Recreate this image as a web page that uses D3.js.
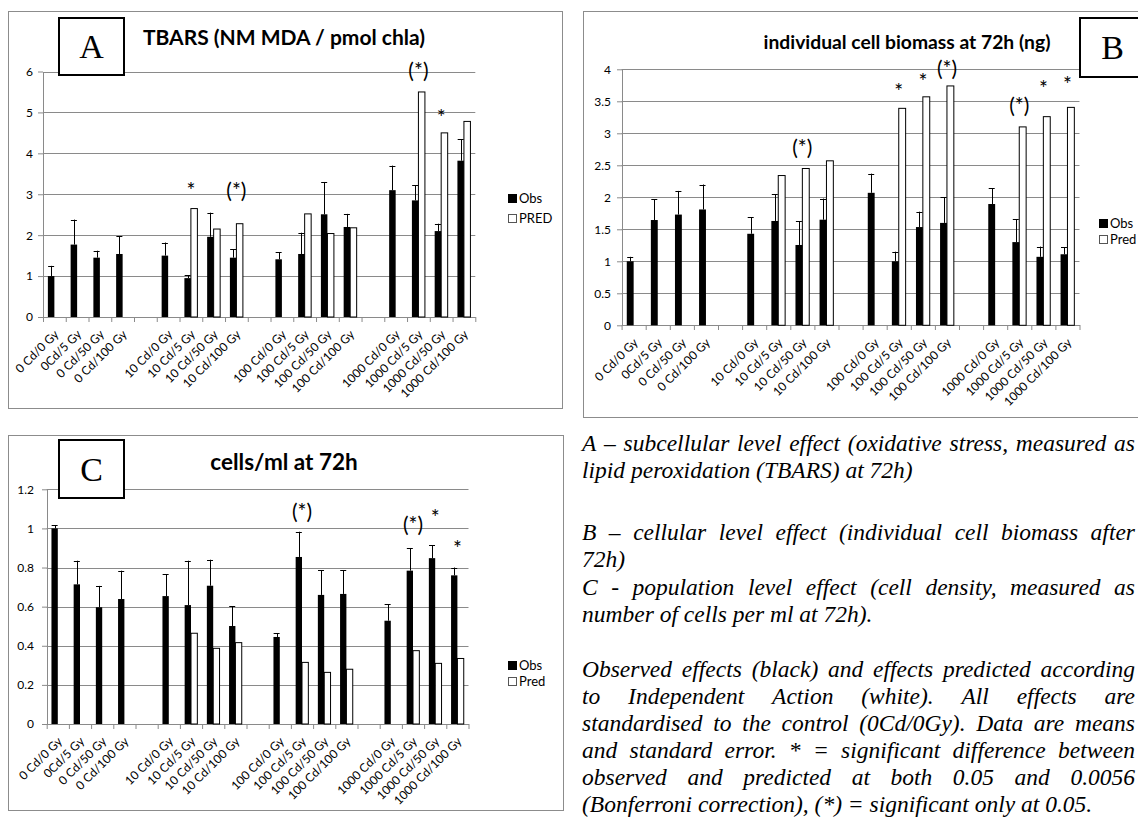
<!DOCTYPE html>
<html>
<head>
<meta charset="utf-8">
<script src="https://cdn.jsdelivr.net/npm/d3@7"></script>
<style>
  body { margin: 0; background: #fff; }
  svg { display: block; }
</style>
</head>
<body>
<svg id="fig" width="1138" height="819"></svg>
<script>
// =======================
// Data
// =======================
const categories = [
  "0 Cd/0 Gy", "0Cd/5 Gy", "0 Cd/50 Gy", "0 Cd/100 Gy", "",
  "10 Cd/0 Gy", "10 Cd/5 Gy", "10 Cd/50 Gy", "10 Cd/100 Gy", "",
  "100 Cd/0 Gy", "100 Cd/5 Gy", "100 Cd/50 Gy", "100 Cd/100 Gy", "",
  "1000 Cd/0 Gy", "1000 Cd/5 Gy", "1000 Cd/50 Gy", "1000 Cd/100 Gy"
];

// A - TBARS
const tbarsObs  = [1.0, 1.77, 1.45, 1.54, null, 1.5, 0.95, 1.96, 1.45, null, 1.41, 1.54, 2.51, 2.2, null, 3.1, 2.85, 2.1, 3.82];
const tbarsErr  = [0.25, 0.61, 0.17, 0.43, null, 0.32, 0.07, 0.59, 0.2, null, 0.17, 0.52, 0.79, 0.32, null, 0.6, 0.37, 0.18, 0.53];
const tbarsPred = [null, null, null, null, null, null, 2.65, 2.15, 2.28, null, null, 2.52, 2.04, 2.18, null, null, 5.5, 4.5, 4.78];
const tbarsMarks = [[6, "*", 2.9], [8, "(*)", 2.9], [16, "(*)", 5.83], [17, "*", 4.7]];

// B - individual cell biomass
const biomassObs  = [1.0, 1.645, 1.73, 1.81, null, 1.43, 1.63, 1.255, 1.65, null, 2.07, 1.0, 1.535, 1.6, null, 1.895, 1.3, 1.07, 1.11];
const biomassErr  = [0.07, 0.325, 0.37, 0.39, null, 0.26, 0.42, 0.37, 0.33, null, 0.3, 0.15, 0.24, 0.4, null, 0.245, 0.355, 0.16, 0.11];
const biomassPred = [null, null, null, null, null, null, 2.34, 2.45, 2.57, null, null, 3.39, 3.57, 3.74, null, null, 3.1, 3.26, 3.405];
const biomassMarks = [[7, "(*)", 2.66], [11, "*", 3.54], [12, "*", 3.69], [13, "(*)", 3.9], [16, "(*)", 3.32], [17, "*", 3.58], [18, "*", 3.64]];

// C - cells/ml
const cellsObs  = [1.0, 0.714, 0.597, 0.639, null, 0.654, 0.608, 0.707, 0.501, null, 0.445, 0.854, 0.66, 0.665, null, 0.528, 0.784, 0.848, 0.76];
const cellsErr  = [0.015, 0.121, 0.109, 0.145, null, 0.111, 0.227, 0.133, 0.102, null, 0.019, 0.129, 0.126, 0.121, null, 0.085, 0.116, 0.067, 0.04];
const cellsPred = [null, null, null, null, null, null, 0.464, 0.387, 0.416, null, null, 0.315, 0.264, 0.28, null, null, 0.375, 0.31, 0.335];
const cellsMarks = [[11, "(*)", 1.048], [16, "(*)", 0.98], [17, "*", 1.02], [18, "*", 0.86]];

// caption (line breaks as in the figure; j = justified line)
const captionLines = [
  { t: "A – subcellular level effect (oxidative stress, measured as", j: true },
  { t: "lipid peroxidation (TBARS) at 72h)", j: false },
  { t: "B – cellular level effect (individual cell biomass after", j: true },
  { t: "72h)", j: false },
  { t: "C - population level effect (cell density, measured as", j: true },
  { t: "number of cells per ml at 72h).", j: false },
  { t: "Observed effects (black) and effects predicted according", j: true },
  { t: "to Independent Action (white). All effects are", j: true },
  { t: "standardised to the control (0Cd/0Gy). Data are means", j: true },
  { t: "and standard error. * = significant difference between", j: true },
  { t: "observed and predicted at both 0.05 and 0.0056", j: true },
  { t: "(Bonferroni correction), (*) = significant only at 0.05.", j: false }
];
const captionBaselines = [451, 478, 540, 567, 595, 622, 677, 704, 731, 758, 785, 812];

// =======================
// Setup
// =======================
const svg = d3.select("#fig");
const FONT = "Lato, 'Open Sans', sans-serif";
const SERIF = "'Liberation Serif', 'Times New Roman', serif";
const GRID = "#8a8a8a";

function fmt(d) { return String(+d.toFixed(2)); }

// =======================
// One chart panel
// =======================
function drawPanel(p) {
  const g = svg.append("g");
  const [fx, fy, fw, fh] = p.frame;

  g.append("rect")
    .attr("x", fx + 0.5).attr("y", fy + 0.5)
    .attr("width", fw).attr("height", fh)
    .attr("fill", "#fff").attr("stroke", "#8c8c8c");

  const x = d3.scaleBand()
    .domain(d3.range(categories.length))
    .range([p.left, p.right]);
  const xl = d3.scaleLinear()
    .domain([0, categories.length])
    .range([p.left, p.right]);
  const y = d3.scaleLinear()
    .domain(p.yDomain)
    .range([p.bottom, p.top]);

  const ticks = d3.range(0, Math.round(p.yDomain[1] / p.yStep) + 1).map(k => k * p.yStep);
  const bw = x.bandwidth() / 3.5;
  const cx = i => x(i) + x.bandwidth() / 2;

  // gridlines
  g.append("g").selectAll("line")
    .data(ticks.slice(1))
    .join("line")
    .attr("x1", p.left).attr("x2", p.right)
    .attr("y1", d => Math.round(y(d)) + 0.5)
    .attr("y2", d => Math.round(y(d)) + 0.5)
    .attr("stroke", GRID);

  // y axis
  const yAxis = g.append("g")
    .attr("transform", `translate(${Math.round(p.left)},0)`)
    .call(d3.axisLeft(y).tickValues(ticks).tickSize(5).tickSizeOuter(0)
      .tickPadding(p.pad).tickFormat(fmt));
  yAxis.select(".domain").attr("stroke", GRID);
  yAxis.selectAll(".tick line").attr("stroke", GRID);
  yAxis.selectAll(".tick text")
    .attr("font-family", FONT).attr("font-size", 12).attr("fill", "#000");

  // x axis (ticks between categories)
  const xAxis = g.append("g")
    .attr("transform", `translate(0,${Math.round(p.bottom)})`)
    .call(d3.axisBottom(xl).tickValues(d3.range(categories.length + 1))
      .tickSize(5).tickSizeOuter(0).tickFormat(""));
  xAxis.select(".domain").attr("stroke", GRID);
  xAxis.selectAll(".tick line").attr("stroke", GRID);

  g.append("g").selectAll("text")
    .data(categories.map((c, i) => ({ c, i })).filter(d => d.c))
    .join("text")
    .attr("transform", d => `translate(${cx(d.i) + 5},${p.bottom + 18}) rotate(-45)`)
    .attr("text-anchor", "end")
    .attr("font-family", FONT).attr("font-size", 12)
    .text(d => d.c);

  // predicted bars (white)
  g.append("g").selectAll("rect")
    .data(p.pred.map((v, i) => ({ v, i })).filter(d => d.v != null))
    .join("rect")
    .attr("x", d => cx(d.i))
    .attr("y", d => y(d.v))
    .attr("width", bw)
    .attr("height", d => y(0) - y(d.v))
    .attr("fill", "#fff").attr("stroke", "#000").attr("stroke-width", 1);

  // observed bars (black)
  const obs = p.obs.map((v, i) => ({ v, i, e: p.err[i] })).filter(d => d.v != null);
  g.append("g").selectAll("rect")
    .data(obs)
    .join("rect")
    .attr("x", d => cx(d.i) - bw)
    .attr("y", d => y(d.v))
    .attr("width", bw)
    .attr("height", d => y(0) - y(d.v))
    .attr("fill", "#000");

  // error bars
  const eb = g.append("g").attr("stroke", "#000").attr("stroke-width", 1);
  eb.selectAll("line.v")
    .data(obs)
    .join("line").attr("class", "v")
    .attr("x1", d => Math.round(cx(d.i) - bw / 2) + 0.5)
    .attr("x2", d => Math.round(cx(d.i) - bw / 2) + 0.5)
    .attr("y1", d => y(d.v))
    .attr("y2", d => y(d.v + d.e));
  eb.selectAll("line.c")
    .data(obs)
    .join("line").attr("class", "c")
    .attr("x1", d => cx(d.i) - bw / 2 - 3)
    .attr("x2", d => cx(d.i) - bw / 2 + 3)
    .attr("y1", d => Math.round(y(d.v + d.e)) + 0.5)
    .attr("y2", d => Math.round(y(d.v + d.e)) + 0.5);

  // significance marks
  g.append("g").selectAll("text")
    .data(p.marks)
    .join("text")
    .attr("x", d => cx(d[0]))
    .attr("y", d => y(d[2]))
    .attr("text-anchor", "middle")
    .attr("font-family", FONT).attr("font-size", 21)
    .text(d => d[1]);

  // title
  g.append("text")
    .attr("x", p.titleX).attr("y", p.titleY)
    .attr("text-anchor", "middle")
    .attr("font-family", FONT).attr("font-weight", "bold")
    .attr("font-size", p.titleSize)
    .text(p.title);

  // panel letter box
  const [bx, by, bwid, bh] = p.box;
  g.append("rect")
    .attr("x", bx).attr("y", by).attr("width", bwid).attr("height", bh)
    .attr("fill", "#fff").attr("stroke", "#000").attr("stroke-width", 2);
  g.append("text")
    .attr("x", bx + 32.5).attr("y", by + bh / 2 + 11.5)
    .attr("text-anchor", "middle")
    .attr("font-family", SERIF).attr("font-size", 34)
    .text(p.letter);

  // legend
  const lg = g.append("g")
    .attr("transform", `translate(${p.legend[0]},${p.legend[1]})`);
  p.legendLabels.forEach((lab, k) => {
    const row = lg.append("g").attr("transform", `translate(0,${k * p.legend[2]})`);
    row.append("rect")
      .attr("x", 0.5).attr("y", -3.5).attr("width", 8).attr("height", 8)
      .attr("fill", k === 0 ? "#000" : "#fff")
      .attr("stroke", k === 0 ? "#000" : "#555");
    row.append("text")
      .attr("x", 11).attr("y", 0.5).attr("dy", "0.35em")
      .attr("font-family", FONT).attr("font-size", 13)
      .text(lab);
  });
}

drawPanel({
  frame: [8, 11, 554, 397],
  left: 43, right: 475.3, bottom: 317, top: 71.5, pad: 5,
  yDomain: [0, 6], yStep: 1,
  obs: tbarsObs, err: tbarsErr, pred: tbarsPred, marks: tbarsMarks,
  title: "TBARS (NM MDA / pmol chla)", titleX: 284, titleY: 45, titleSize: 21,
  box: [59, 18, 65, 57], letter: "A",
  legend: [508, 198, 20], legendLabels: ["Obs", "PRED"]
});

drawPanel({
  frame: [583, 11, 600, 406],
  left: 621.6, right: 1079.5, bottom: 325.3, top: 69.3, pad: 6,
  yDomain: [0, 4], yStep: 0.5,
  obs: biomassObs, err: biomassErr, pred: biomassPred, marks: biomassMarks,
  title: "individual cell biomass at 72h (ng)", titleX: 907, titleY: 49, titleSize: 19.3,
  box: [1080, 18, 65, 59], letter: "B",
  legend: [1099, 223, 16], legendLabels: ["Obs", "Pred"]
});

drawPanel({
  frame: [8, 435, 555, 375],
  left: 46.7, right: 468.5, bottom: 724, top: 489.3, pad: 8,
  yDomain: [0, 1.2], yStep: 0.2,
  obs: cellsObs, err: cellsErr, pred: cellsPred, marks: cellsMarks,
  title: "cells/ml at 72h", titleX: 284, titleY: 470, titleSize: 22.5,
  box: [59, 440, 65, 58], letter: "C",
  legend: [508, 665, 16], legendLabels: ["Obs", "Pred"]
});

// =======================
// Caption (justified, italic serif)
// =======================
const CAP_X0 = 582, CAP_X1 = 1135;
const cap = svg.append("g")
  .attr("font-family", SERIF).attr("font-style", "italic").attr("font-size", 23.5);

captionLines.forEach((ln, i) => {
  const yy = captionBaselines[i];
  if (!ln.j) {
    cap.append("text").attr("x", CAP_X0).attr("y", yy).text(ln.t);
    return;
  }
  const words = ln.t.split(" ");
  const nodes = words.map(w => cap.append("text").attr("y", yy).text(w));
  const widths = nodes.map(n => n.node().getComputedTextLength());
  const gap = Math.max(4, (CAP_X1 - CAP_X0 - d3.sum(widths)) / (words.length - 1));
  let xx = CAP_X0;
  nodes.forEach((n, k) => { n.attr("x", xx); xx += widths[k] + gap; });
});
</script>
</body>
</html>
